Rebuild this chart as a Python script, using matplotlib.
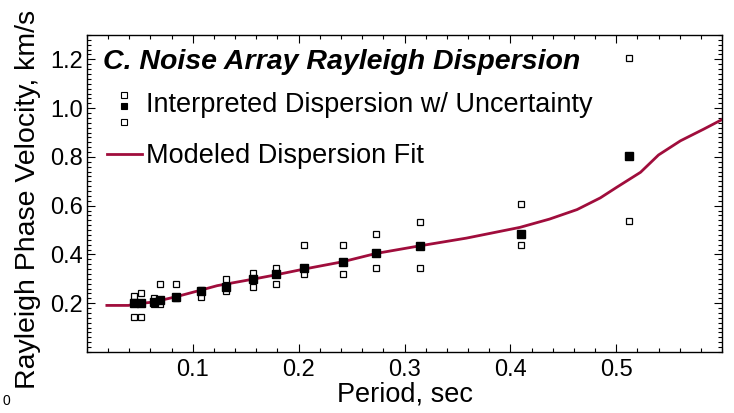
import numpy as np
import matplotlib
matplotlib.use("Agg")
import matplotlib.pyplot as plt
from matplotlib.lines import Line2D
from matplotlib.legend_handler import HandlerBase
from matplotlib.ticker import MultipleLocator

plt.rcParams["font.family"] = ["Liberation Sans", "DejaVu Sans"]

# interpreted dispersion: period (s), median and bounds (km/s)
period = [0.0441, 0.0514, 0.0630, 0.0694, 0.0845, 0.1073, 0.1310, 0.1564,
          0.1784, 0.2052, 0.2415, 0.2730, 0.3150, 0.4097, 0.5117]
vel_mid = [0.202, 0.202, 0.205, 0.215, 0.225, 0.252, 0.267, 0.300,
           0.319, 0.346, 0.371, 0.404, 0.435, 0.484, 0.803]
vel_hi = [0.228, 0.242, 0.222, 0.280, 0.280, 0.256, 0.300, 0.322,
          0.346, 0.438, 0.438, 0.483, 0.534, 0.607, 1.206]
vel_lo = [0.143, 0.143, 0.198, 0.195, 0.220, 0.227, 0.251, 0.268,
          0.280, 0.319, 0.319, 0.346, 0.346, 0.438, 0.537]

# modeled dispersion fit
fit_period = [0.0188, 0.0393, 0.0440, 0.0630, 0.0845, 0.1070, 0.1230, 0.1560,
              0.1780, 0.2050, 0.2415, 0.2730, 0.3140, 0.3585, 0.4090, 0.4370,
              0.4630, 0.4850, 0.5007, 0.5230, 0.5400, 0.5607, 0.5827, 0.6017]
fit_vel = [0.191, 0.191, 0.196, 0.205, 0.227, 0.253, 0.272, 0.298,
           0.316, 0.340, 0.370, 0.404, 0.435, 0.467, 0.511, 0.545,
           0.584, 0.632, 0.676, 0.737, 0.808, 0.866, 0.914, 0.957]

FIT_COLOR = "#A00D3C"


class StackedSquares(HandlerBase):
    """legend key: open / filled / open squares stacked vertically"""

    def create_artists(self, legend, orig_handle, xdescent, ydescent,
                       width, height, fontsize, trans):
        cx = width / 2 - xdescent
        cy = height / 2 - ydescent
        arts = []
        for dy, fc, ms in [(5.5, "white", 3.8), (-2.5, "black", 4.3), (-14.5, "white", 3.8)]:
            a = Line2D([cx], [cy + dy], marker="s", markersize=ms, linestyle="none",
                       markerfacecolor=fc, markeredgecolor="black", markeredgewidth=0.8)
            a.set_transform(trans)
            arts.append(a)
        return arts


fig = plt.figure(figsize=(7.34, 4.13), dpi=100)
ax = fig.add_axes([0.1185, 0.1477, 0.8652, 0.7676])

ax.plot(fit_period, fit_vel, color=FIT_COLOR, linewidth=2.0, zorder=2)
ax.plot(period, vel_hi, "s", ms=5, mfc="white", mec="black", mew=0.9, zorder=3)
ax.plot(period, vel_lo, "s", ms=5, mfc="white", mec="black", mew=0.9, zorder=3)
ax.plot(period, vel_mid, "s", ms=5.5, mfc="black", mec="black", zorder=4)

ax.set_xlim(0, 0.6)
ax.set_ylim(0, 1.3)
ax.set_xticks([0.1, 0.2, 0.3, 0.4, 0.5])
ax.set_yticks([0.2, 0.4, 0.6, 0.8, 1.0, 1.2])
ax.xaxis.set_minor_locator(MultipleLocator(0.02))
ax.yaxis.set_minor_locator(MultipleLocator(0.02))
ax.tick_params(which="both", direction="in", top=True, right=True,
               labelsize=17, width=0.8)
ax.tick_params(axis="x", pad=5)
ax.tick_params(axis="y", pad=3)
ax.tick_params(which="major", length=6)
ax.tick_params(which="minor", length=3)
for s in ax.spines.values():
    s.set_linewidth(1.0)

ax.set_xlabel("Period, sec", fontsize=19.5, labelpad=0.5)
ax.set_ylabel("Rayleigh Phase Velocity, km/s", fontsize=20.5)
ax.yaxis.set_label_coords(-0.072, 0.48)

ax.text(0.025, 0.915, "C. Noise Array Rayleigh Dispersion", transform=ax.transAxes,
        fontsize=20.5, fontweight="bold", fontstyle="italic", va="center")

h_data = Line2D([], [], marker="s", linestyle="none")
h_fit = Line2D([], [], color=FIT_COLOR, linewidth=2.0)
ax.legend([h_data, h_fit],
          ["Interpreted Dispersion w/ Uncertainty", "Modeled Dispersion Fit"],
          handler_map={h_data: StackedSquares()},
          loc="upper left", bbox_to_anchor=(0.031, 0.821), frameon=False,
          fontsize=19.5, handlelength=1.29, handletextpad=0.18,
          labelspacing=0.95, borderaxespad=0, borderpad=0)

fig.text(0.003, 0.02, "0", fontsize=10)

fig.savefig("out.png", dpi=100)
